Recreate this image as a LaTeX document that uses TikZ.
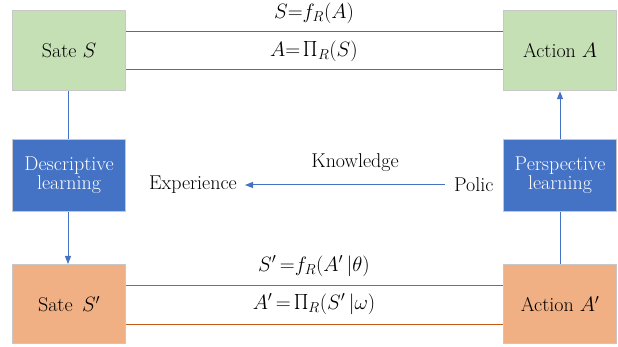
\documentclass[tikz,border=0pt]{standalone}
\usetikzlibrary{arrows.meta}
\definecolor{gfill}{HTML}{C5E0B4}
\definecolor{ofill}{HTML}{F0B084}
\definecolor{bfill}{HTML}{4472C4}
\definecolor{gline}{HTML}{548235}
\definecolor{oline}{HTML}{C55A11}
\definecolor{bline}{HTML}{4472C4}
\definecolor{bord}{HTML}{C8C8C8}
\newcommand{\fsz}{\fontsize{20}{22}\selectfont}
\newcommand{\bigprod}{\mathop{\raisebox{-1pt}{\scalebox{1.5}{$\prod$}}}\nolimits}
\begin{document}
\begin{tikzpicture}[x=1pt,y=-1pt,
  box/.style={draw=bord,line width=1.2pt,minimum width=113pt,anchor=north west,inner sep=0pt,font=\fsz,align=center},
  gbox/.style={box,fill=gfill,minimum height=80pt},
  obox/.style={box,fill=ofill,minimum height=79pt},
  bbox/.style={box,fill=bfill,minimum height=72pt,text=white},
  lbl/.style={font=\fsz,inner sep=0pt},
  arr/.style={-{Triangle[length=8pt,width=6pt]}},
]
\useasboundingbox (0,0) rectangle (618,347);
\node[gbox] (s) at (12,10) {Sate $S$};
\node[gbox] (a) at (503,10) {Action $A$};
\node[bbox] (d) at (12,139) {Descriptive\\[-3pt]learning};
\node[bbox] (p) at (503,139) {Perspective\\[-3pt]learning};
\node[obox] (s2) at (12,264) {Sate\, $S'$};
\node[obox] (a2) at (503,264) {Action $A'$};
% horizontal lines
\draw[gline,line width=1pt] (s.east |- 0,32) -- (a.west |- 0,32);
\draw[gline,line width=1pt] (s.east |- 0,70) -- (a.west |- 0,70);
\draw[oline,line width=1pt] (s2.east |- 0,285.5) -- (a2.west |- 0,285.5);
\draw[oline,line width=1pt] (s2.east |- 0,324) -- (a2.west |- 0,324);
\node[lbl] (t1) at (314,13) {$S{=}f_R(A)$};
\node[lbl] (t2) at (314,51) {$A{=}\bigprod_R(S)$};
\node[lbl] (t3) at (314,266) {$S'\,{=}f_R(A'\,\mathbf{|}\theta)$};
\node[lbl] (t4) at (314,304) {$A'\,{=}\bigprod_R(S'\,\mathbf{|}\omega)$};
% verticals
\draw[bline,line width=1pt] (s.south -| 68,0) -- (d.north -| 68,0);
\draw[bline,line width=1pt,arr] (d.south -| 68,0) -- (s2.north -| 68,0);
\draw[bline,line width=1pt] (a2.north -| 560,0) -- (p.south -| 560,0);
\draw[bline,line width=1pt,arr] (p.north -| 560,0) -- (a.south -| 560,0);
% middle
\node[lbl,anchor=east] (exp) at (237,185) {Experience};
\node[lbl,anchor=west] (pol) at (454,185) {Polic};
\node[lbl] (kn) at (355,163) {Knowledge};
\draw[bline,line width=1pt,arr] (pol.west) ++(-9,0) coordinate (pe) (pe) -- ([xshift=8pt]exp.east);
\end{tikzpicture}
\end{document}
